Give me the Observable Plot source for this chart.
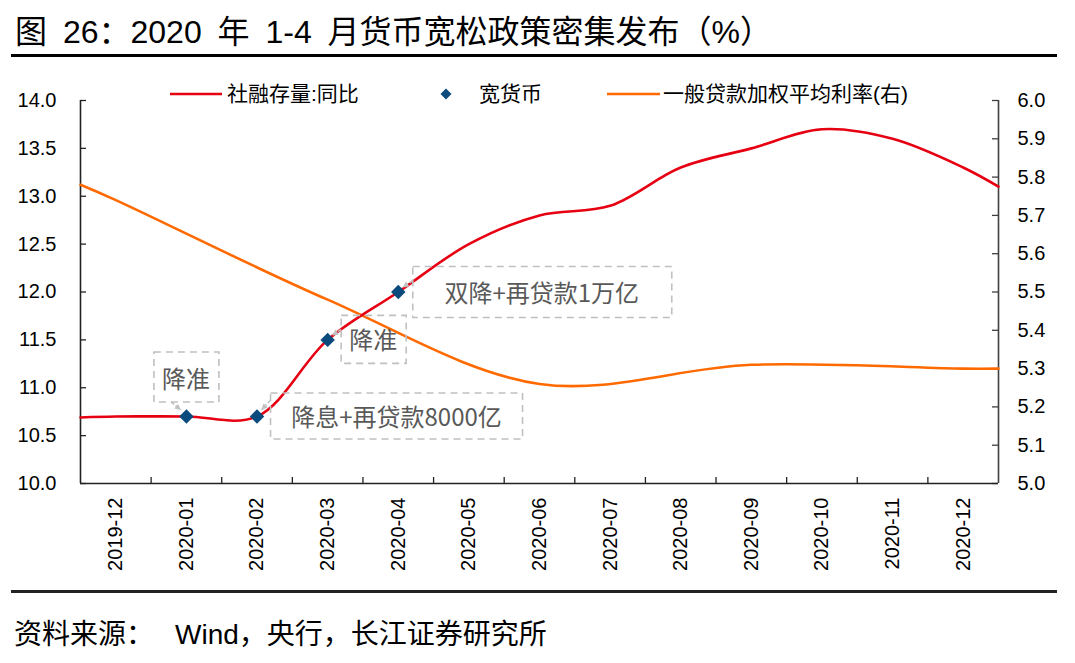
<!DOCTYPE html>
<html>
<head>
<meta charset="utf-8">
<script src="https://cdn.jsdelivr.net/npm/d3@7"></script>
<script src="https://cdn.jsdelivr.net/npm/@observablehq/plot@0.6"></script>
<style>
  body { margin: 0; background: #fff; }
  #wrap { position: relative; width: 1075px; height: 663px; overflow: hidden; background: #fff;
          font-family: "Liberation Sans", Arial, "Noto Sans CJK SC", sans-serif; }
  #title { position: absolute; left: 15px; top: 15.9px; font-size: 32px; line-height: 32px; color: #000; white-space: pre; word-spacing: 7px; }
  #rule1 { position: absolute; left: 11px; top: 54px; width: 1046px; height: 3px; background: #000; }
  #chart { position: absolute; left: 0; top: 70px; }
  #legend { position: absolute; left: 0; top: 80px; }
  #rule2 { position: absolute; left: 11px; top: 590px; width: 1046px; height: 2.5px; background: #222; }
  #source { position: absolute; left: 14px; top: 621.3px; font-size: 28px; line-height: 28px; color: #000; white-space: pre; }
</style>
</head>
<body>
<div id="wrap">
  <div id="title">图 26：2020 年 1-4 月货币宽松政策密集发布（%）</div>
  <div id="rule1"></div>
  <div id="chart"></div>
  <svg id="legend" width="1075" height="30"></svg>
  <div id="rule2"></div>
  <div id="source">资料来源：<span style="padding-left:21px">Wind，央行，长江证券研究所</span></div>
</div>
<script>
// ---------- data ----------
const months = ["2019-12","2020-01","2020-02","2020-03","2020-04","2020-05","2020-06",
                "2020-07","2020-08","2020-09","2020-10","2020-11","2020-12"];
// 社融存量:同比 (left axis, %)
const tsf = [10.7, 10.7, 10.7, 11.5, 12.0, 12.5, 12.8, 12.9, 13.3, 13.5, 13.7, 13.6, 13.3];
// values where the line meets the left / right edges of the plot
const tsfEdges = [10.69, 13.1];
// 一般贷款加权平均利率 (right axis, %), quarterly
const rateMonths = ["2019-12","2020-03","2020-06","2020-09","2020-12"];
const rate = [5.74, 5.48, 5.26, 5.31, 5.30];
const rateEdges = [5.78, 5.30];
// 宽货币 markers
const easingMonths = ["2020-01","2020-02","2020-03","2020-04"];
const easingValues = [10.7, 10.7, 11.5, 12.0];
const easingNotes = ["降准", "降息+再贷款8000亿", "降准", "双降+再贷款1万亿"];
// ticks
const leftTicks = [10.0, 10.5, 11.0, 11.5, 12.0, 12.5, 13.0, 13.5, 14.0];
const rightTicks = [5.0, 5.1, 5.2, 5.3, 5.4, 5.5, 5.6, 5.7, 5.8, 5.9, 6.0];
const seriesNames = ["社融存量:同比", "宽货币", "一般贷款加权平均利率(右)"];

// ---------- helpers ----------
const RED = "#e60012", ORANGE = "#ff6a00", NAVY = "#0b4a7c";
const idx = m => months.indexOf(m);
const leftDomain = [10, 14], rightDomain = [5, 6];
const toLeft = v => leftDomain[0] + (v - rightDomain[0]) * (leftDomain[1] - leftDomain[0]) / (rightDomain[1] - rightDomain[0]);
const fromLeft = v => rightDomain[0] + (v - leftDomain[0]) * (rightDomain[1] - rightDomain[0]) / (leftDomain[1] - leftDomain[0]);
const xMin = -0.5, xMax = months.length - 0.5;

const tsfSeries = [{x: xMin, y: tsfEdges[0]}, ...tsf.map((v, i) => ({x: i, y: v})), {x: xMax, y: tsfEdges[1]}];
const rateSeries = [{x: xMin, y: toLeft(rateEdges[0])},
  ...rateMonths.map((m, i) => ({x: idx(m), y: toLeft(rate[i])})),
  {x: xMax, y: toLeft(rateEdges[1])}];
const easing = easingMonths.map((m, i) => ({x: idx(m), y: easingValues[i], note: easingNotes[i]}));
const bandEdges = d3.range(xMin + 1, xMax, 1);

// annotation layout (pixel offsets relative to each marker)
const annoLayout = [
  {bx: -32, by: -64, bw: 65,  bh: 50, tx: 0,   ty: -37, l: [-15, -14, -5, -6]},
  {bx: 14,  by: -23, bw: 252, bh: 46, tx: 140, ty: 1,   l: [14, -16, 5, -6]},
  {bx: 14,  by: -24, bw: 65,  bh: 48, tx: 46,  ty: 1,   l: [14, -10, 5, -4]},
  {bx: 15,  by: -25, bw: 259, bh: 51, tx: 144, ty: 1,   l: [15, -11, 5, -4]}
];

function annotationMark(index, scales) {
  const g = d3.create("svg:g");
  easing.forEach((d, i) => {
    const px = scales.x(d.x), py = scales.y(d.y);
    const L = annoLayout[i];
    g.append("rect")
      .attr("x", px + L.bx).attr("y", py + L.by)
      .attr("width", L.bw).attr("height", L.bh)
      .attr("fill", "none").attr("stroke", "#c0c0c0")
      .attr("stroke-width", 1.6).attr("stroke-dasharray", "7,5");
    g.append("text")
      .attr("x", px + L.tx).attr("y", py + L.ty).attr("dy", "0.38em")
      .attr("text-anchor", "middle")
      .attr("font-family", '"Noto Sans CJK SC", sans-serif')
      .attr("font-size", 24).attr("fill", "#595959")
      .text(d.note);
    const [x1, y1, x2, y2] = [px + L.l[0], py + L.l[1], px + L.l[2], py + L.l[3]];
    g.append("line")
      .attr("x1", x1).attr("y1", y1).attr("x2", x2).attr("y2", y2)
      .attr("stroke", "#c0c0c0").attr("stroke-width", 1.6).attr("stroke-dasharray", "4,2");
    const ang = Math.atan2(y2 - y1, x2 - x1), len = 6, hw = 3;
    const bx = x2 - len * Math.cos(ang), by = y2 - len * Math.sin(ang);
    g.append("path")
      .attr("d", `M${x2},${y2}L${bx - hw * Math.sin(ang)},${by + hw * Math.cos(ang)}L${bx + hw * Math.sin(ang)},${by - hw * Math.cos(ang)}Z`)
      .attr("fill", "#c0c0c0");
  });
  return g.node();
}

const chart = Plot.plot({
  width: 1075,
  height: 521,
  marginTop: 30,
  marginBottom: 108,
  marginLeft: 80,
  marginRight: 77,
  x: {domain: [xMin, xMax], axis: null},
  y: {domain: leftDomain},
  style: {fontFamily: '"Liberation Sans", Arial, sans-serif', fontSize: "20px", color: "#000", background: "transparent", overflow: "visible"},
  marks: [
    // inward tick marks
    Plot.tickY(leftTicks, {y: d => d, insetRight: 912, stroke: "#222", strokeWidth: 1.3}),
    Plot.tickY(rightTicks.map(toLeft), {y: d => d, insetLeft: 912, stroke: "#404040", strokeWidth: 1.3}),
    Plot.tickX(bandEdges, {x: d => d, insetTop: 377, stroke: "#222", strokeWidth: 1.3}),
    // axis lines
    Plot.ruleX([xMin], {stroke: "#222", strokeWidth: 1.6}),
    Plot.ruleX([xMax], {stroke: "#404040", strokeWidth: 1.6}),
    Plot.ruleY([leftDomain[0]], {stroke: "#222", strokeWidth: 1.6}),
    // axis labels
    Plot.axisY(leftTicks, {anchor: "left", label: null, tickSize: 0, tickPadding: 24, tickFormat: d3.format(".1f"), fill: "#000"}),
    Plot.axisY(rightTicks.map(toLeft), {anchor: "right", label: null, tickSize: 0, tickPadding: 19, tickFormat: d => fromLeft(d).toFixed(1), fill: "#000"}),
    Plot.text(months, {x: (d, i) => i, frameAnchor: "bottom", text: d => d, rotate: -90,
                       textAnchor: "end", lineAnchor: "middle", dy: 14, fill: "#000"}),
    // series
    Plot.line(rateSeries, {x: "x", y: "y", stroke: ORANGE, strokeWidth: 2.6, curve: "catmull-rom"}),
    Plot.line(tsfSeries, {x: "x", y: "y", stroke: RED, strokeWidth: 2.6, curve: "catmull-rom"}),
    annotationMark,
    Plot.dot(easing, {x: "x", y: "y", symbol: "diamond2", r: 6.5, fill: NAVY, stroke: "none"})
  ]
});
document.getElementById("chart").appendChild(chart);

// ---------- legend ----------
const lg = d3.select("#legend");
const cy = 14, base = 21;
const lgFont = '"Liberation Sans", Arial, "Noto Sans CJK SC", sans-serif';
lg.append("line").attr("x1", 170).attr("x2", 222).attr("y1", cy).attr("y2", cy).attr("stroke", RED).attr("stroke-width", 2.6);
lg.append("text").attr("x", 227).attr("y", base).attr("font-family", lgFont).attr("font-size", 21).attr("fill", "#000").text(seriesNames[0]);
lg.append("path").attr("d", `M446,${cy - 5.5}L451.5,${cy}L446,${cy + 5.5}L440.5,${cy}Z`).attr("fill", NAVY);
lg.append("text").attr("x", 479).attr("y", base).attr("font-family", lgFont).attr("font-size", 21).attr("fill", "#000").text(seriesNames[1]);
lg.append("line").attr("x1", 607).attr("x2", 660).attr("y1", cy).attr("y2", cy).attr("stroke", ORANGE).attr("stroke-width", 2.6);
lg.append("text").attr("x", 663).attr("y", base).attr("font-family", lgFont).attr("font-size", 21).attr("fill", "#000").text(seriesNames[2]);
</script>
</body>
</html>
